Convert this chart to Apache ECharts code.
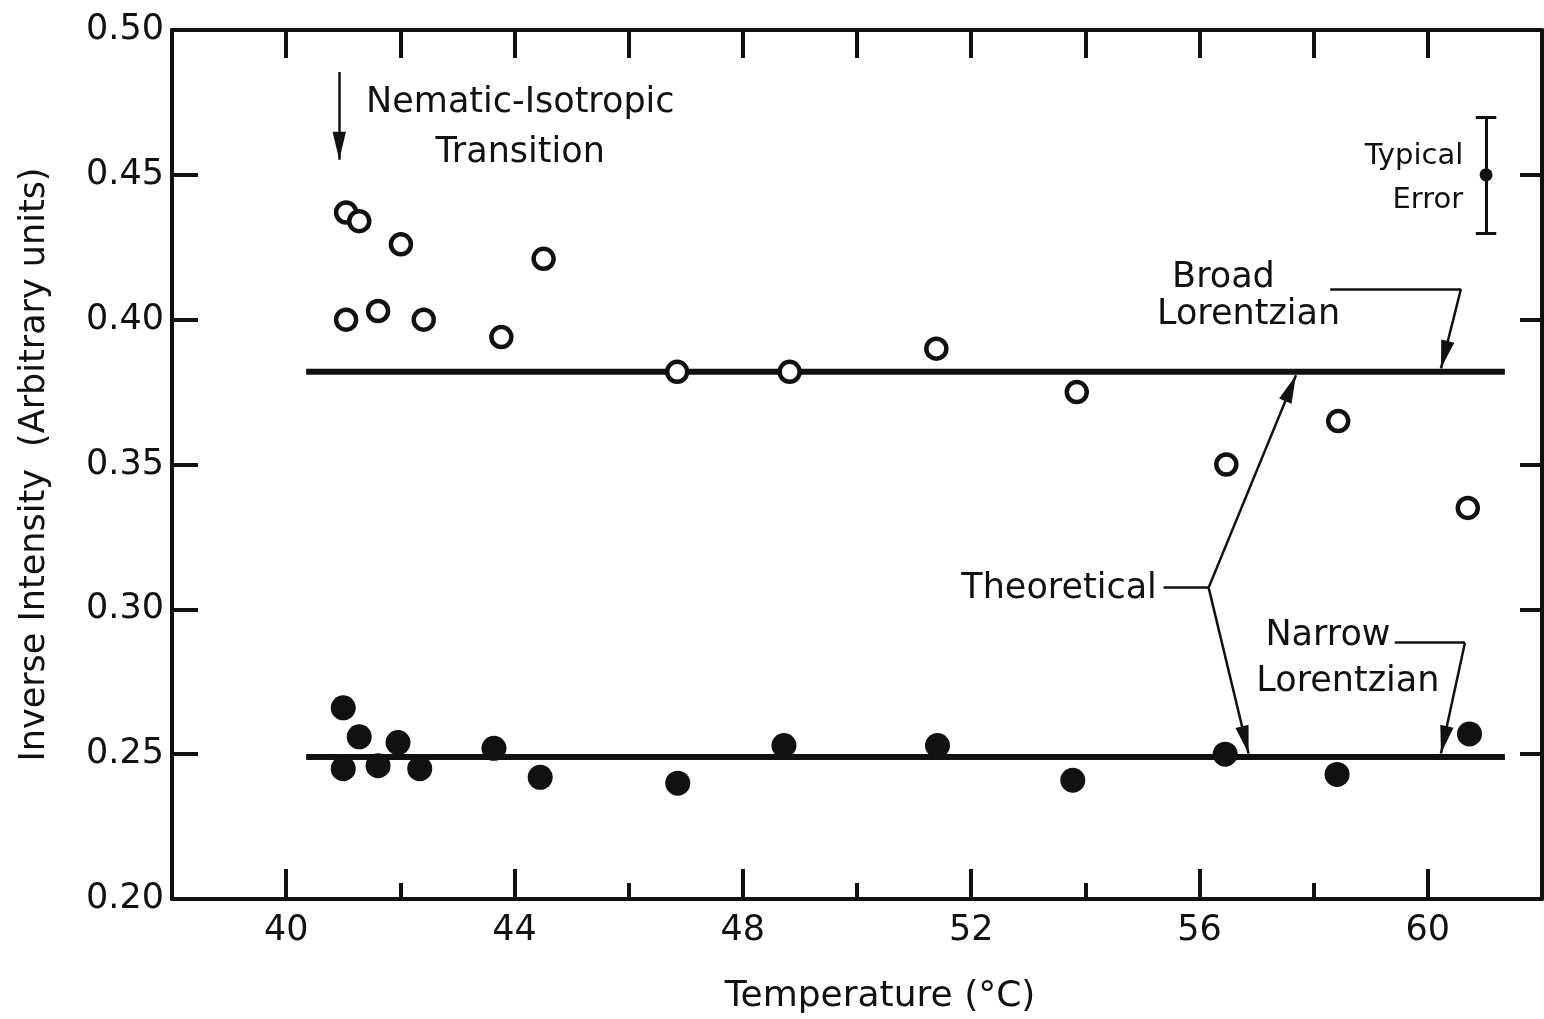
<!DOCTYPE html>
<html>
<head>
<meta charset="utf-8">
<script src="https://cdn.jsdelivr.net/npm/echarts@6/dist/echarts.min.js"></script>
<style>
  html, body { margin: 0; padding: 0; background: #fff; }
  #main { width: 1544px; height: 1019px; }
</style>
</head>
<body>
<div id="main"></div>
<script>
// 开放圆点：Broad Lorentzian
var broadT = [41.05, 41.28, 42.01, 44.51, 41.05, 41.61, 42.41, 43.77, 46.85, 48.82, 51.39, 53.85, 56.47, 58.43, 60.70];
var broadI = [0.437, 0.434, 0.426, 0.421, 0.400, 0.403, 0.400, 0.394, 0.382, 0.382, 0.390, 0.375, 0.350, 0.365, 0.335];
// 实心圆点：Narrow Lorentzian
var narrowT = [41.00, 41.28, 41.96, 41.00, 41.61, 42.34, 43.64, 44.45, 46.86, 48.72, 51.41, 53.78, 56.45, 58.41, 60.73];
var narrowI = [0.266, 0.256, 0.254, 0.245, 0.246, 0.245, 0.252, 0.242, 0.240, 0.253, 0.253, 0.241, 0.250, 0.243, 0.257];
// 理论值（水平线）
var theoryT = [40.35, 61.35];
var broadTheory = 0.382;
var narrowTheory = 0.249;
// 典型误差
var errT = 61.02, errI = 0.45, errD = 0.02;
// 坐标轴刻度
var xMajor = [40, 44, 48, 52, 56, 60];
var xMinor = [42, 46, 50, 54, 58];

var FONT = 'DejaVu Sans';
var INK = '#111';
// 细长的实心箭头：尖端在方框中心（即线段终点），两个零长线段把外框撑成方形
var ARROW = 'path://M50,50L62,100L38,100Z M0,0L0,0 M100,100L100,100';

function zip(a, b) {
  var out = [];
  for (var i = 0; i < a.length; i++) out.push([a[i], b[i]]);
  return out;
}

// 注释文字（数据坐标）
var notes = [
  { at: [41.40, 0.4748], text: 'Nematic-Isotropic', align: 'left' },
  { at: [44.10, 0.4575], text: 'Transition' },
  { at: [60.62, 0.4562], text: 'Typical', align: 'right', size: 29 },
  { at: [60.62, 0.4413], text: 'Error', align: 'right', size: 29 },
  { at: [56.42, 0.4144], text: 'Broad' },
  { at: [56.86, 0.4017], text: 'Lorentzian' },
  { at: [53.54, 0.3070], text: 'Theoretical' },
  { at: [58.25, 0.2909], text: 'Narrow' },
  { at: [58.60, 0.2750], text: 'Lorentzian' }
];

// 引线：折线部分（无箭头）
var leaderPaths = [
  { coords: [[58.29, 0.4106], [60.58, 0.4106]] },
  { coords: [[55.37, 0.3075], [56.16, 0.3075]] },
  { coords: [[59.42, 0.2885], [60.65, 0.2885]] }
];
// 引线：带箭头的最后一段（终点即箭头尖）
var leaderArrows = [
  { coords: [[40.93, 0.4855], [40.93, 0.4552]] },
  { coords: [[60.58, 0.4106], [60.23, 0.3832]] },
  { coords: [[56.16, 0.3075], [57.69, 0.3808]] },
  { coords: [[56.16, 0.3075], [56.86, 0.2502]] },
  { coords: [[60.65, 0.2885], [60.23, 0.2502]] }
];

var errBar = [
  { coords: [[errT, errI - errD], [errT, errI + errD]] },
  { coords: [[errT - 0.18, errI + errD], [errT + 0.18, errI + errD]] },
  { coords: [[errT - 0.18, errI - errD], [errT + 0.18, errI - errD]] }
];

var axisLine = { show: true, lineStyle: { color: INK, width: 4 } };

var option = {
  backgroundColor: '#fff',
  animation: false,
  grid: { left: 172, right: 2, top: 30, bottom: 120, outerBoundsMode: 'none' },
  xAxis: [{
    type: 'value', position: 'bottom', min: 38, max: 62, interval: 2,
    name: 'Temperature (°C)', nameLocation: 'middle', nameGap: 80,
    nameTextStyle: { fontFamily: FONT, fontSize: 36, color: INK, padding: [0, 0, 0, 46] },
    axisLine: axisLine,
    axisTick: { show: true, inside: true, length: 30, customValues: xMajor, lineStyle: { color: INK, width: 4 } },
    axisLabel: { customValues: xMajor, fontFamily: FONT, fontSize: 35, color: INK, margin: 14 },
    splitLine: { show: false }
  }, {
    type: 'value', position: 'bottom', min: 38, max: 62, interval: 2,
    axisLine: { show: false },
    axisTick: { show: true, inside: true, length: 16, customValues: xMinor, lineStyle: { color: INK, width: 4 } },
    axisLabel: { show: false },
    splitLine: { show: false }
  }, {
    type: 'value', position: 'top', min: 38, max: 62, interval: 2,
    axisLine: axisLine,
    axisTick: { show: true, inside: true, length: 28, lineStyle: { color: INK, width: 4 } },
    axisLabel: { show: false },
    splitLine: { show: false }
  }],
  yAxis: [{
    type: 'value', position: 'left', min: 0.2, max: 0.5, interval: 0.05,
    name: 'Inverse Intensity  (Arbitrary units)', nameLocation: 'middle', nameGap: 120,
    nameTextStyle: { fontFamily: FONT, fontSize: 35, color: INK },
    axisLine: axisLine,
    axisTick: { show: true, inside: true, length: 26, lineStyle: { color: INK, width: 4 } },
    axisLabel: {
      fontFamily: FONT, fontSize: 35, color: INK, margin: 8,
      formatter: function (v) { return v.toFixed(2); }
    },
    splitLine: { show: false }
  }, {
    type: 'value', position: 'right', min: 0.2, max: 0.5, interval: 0.05,
    axisLine: axisLine,
    axisTick: { show: true, inside: true, length: 22, lineStyle: { color: INK, width: 4 } },
    axisLabel: { show: false },
    splitLine: { show: false }
  }],
  series: [{
    name: 'Broad theory', type: 'line', symbol: 'none',
    data: [[theoryT[0], broadTheory], [theoryT[1], broadTheory]],
    lineStyle: { color: INK, width: 6 }
  }, {
    name: 'Narrow theory', type: 'line', symbol: 'none',
    data: [[theoryT[0], narrowTheory], [theoryT[1], narrowTheory]],
    lineStyle: { color: INK, width: 6 }
  }, {
    name: 'Broad', type: 'scatter', symbol: 'circle', symbolSize: 20, z: 5,
    data: zip(broadT, broadI),
    itemStyle: { color: '#fff', borderColor: INK, borderWidth: 4.5, opacity: 1 }
  }, {
    name: 'Narrow', type: 'scatter', symbol: 'circle', symbolSize: 25, z: 5,
    data: zip(narrowT, narrowI),
    itemStyle: { color: INK, opacity: 1 }
  }, {
    name: 'Leader paths', type: 'lines', coordinateSystem: 'cartesian2d',
    symbol: 'none', data: leaderPaths,
    lineStyle: { color: INK, width: 2.5, opacity: 1 }
  }, {
    name: 'Leader arrows', type: 'lines', coordinateSystem: 'cartesian2d',
    symbol: ['none', ARROW], symbolSize: [1, 56],
    data: leaderArrows,
    itemStyle: { color: INK },
    lineStyle: { color: INK, width: 2.5, opacity: 1, curveness: 0 }
  }, {
    name: 'Error bar', type: 'lines', coordinateSystem: 'cartesian2d',
    symbol: 'none', data: errBar,
    lineStyle: { color: INK, width: 3, opacity: 1 }
  }, {
    name: 'Error dot', type: 'scatter', symbolSize: 13,
    data: [[errT, errI]], itemStyle: { color: INK, opacity: 1 }
  }]
};

var chart = echarts.init(document.getElementById('main'), null, { renderer: 'canvas' });
chart.setOption(option);

// 把注释文字放到数据坐标上
var texts = notes.map(function (n) {
  var p = chart.convertToPixel({ xAxisIndex: 0, yAxisIndex: 0 }, n.at);
  return {
    type: 'text', x: p[0], y: p[1], z: 20,
    style: {
      text: n.text, fill: INK, fontFamily: FONT, fontSize: n.size || 35,
      align: n.align || 'center', verticalAlign: 'middle'
    }
  };
});
chart.setOption({ graphic: texts });
</script>
</body>
</html>
